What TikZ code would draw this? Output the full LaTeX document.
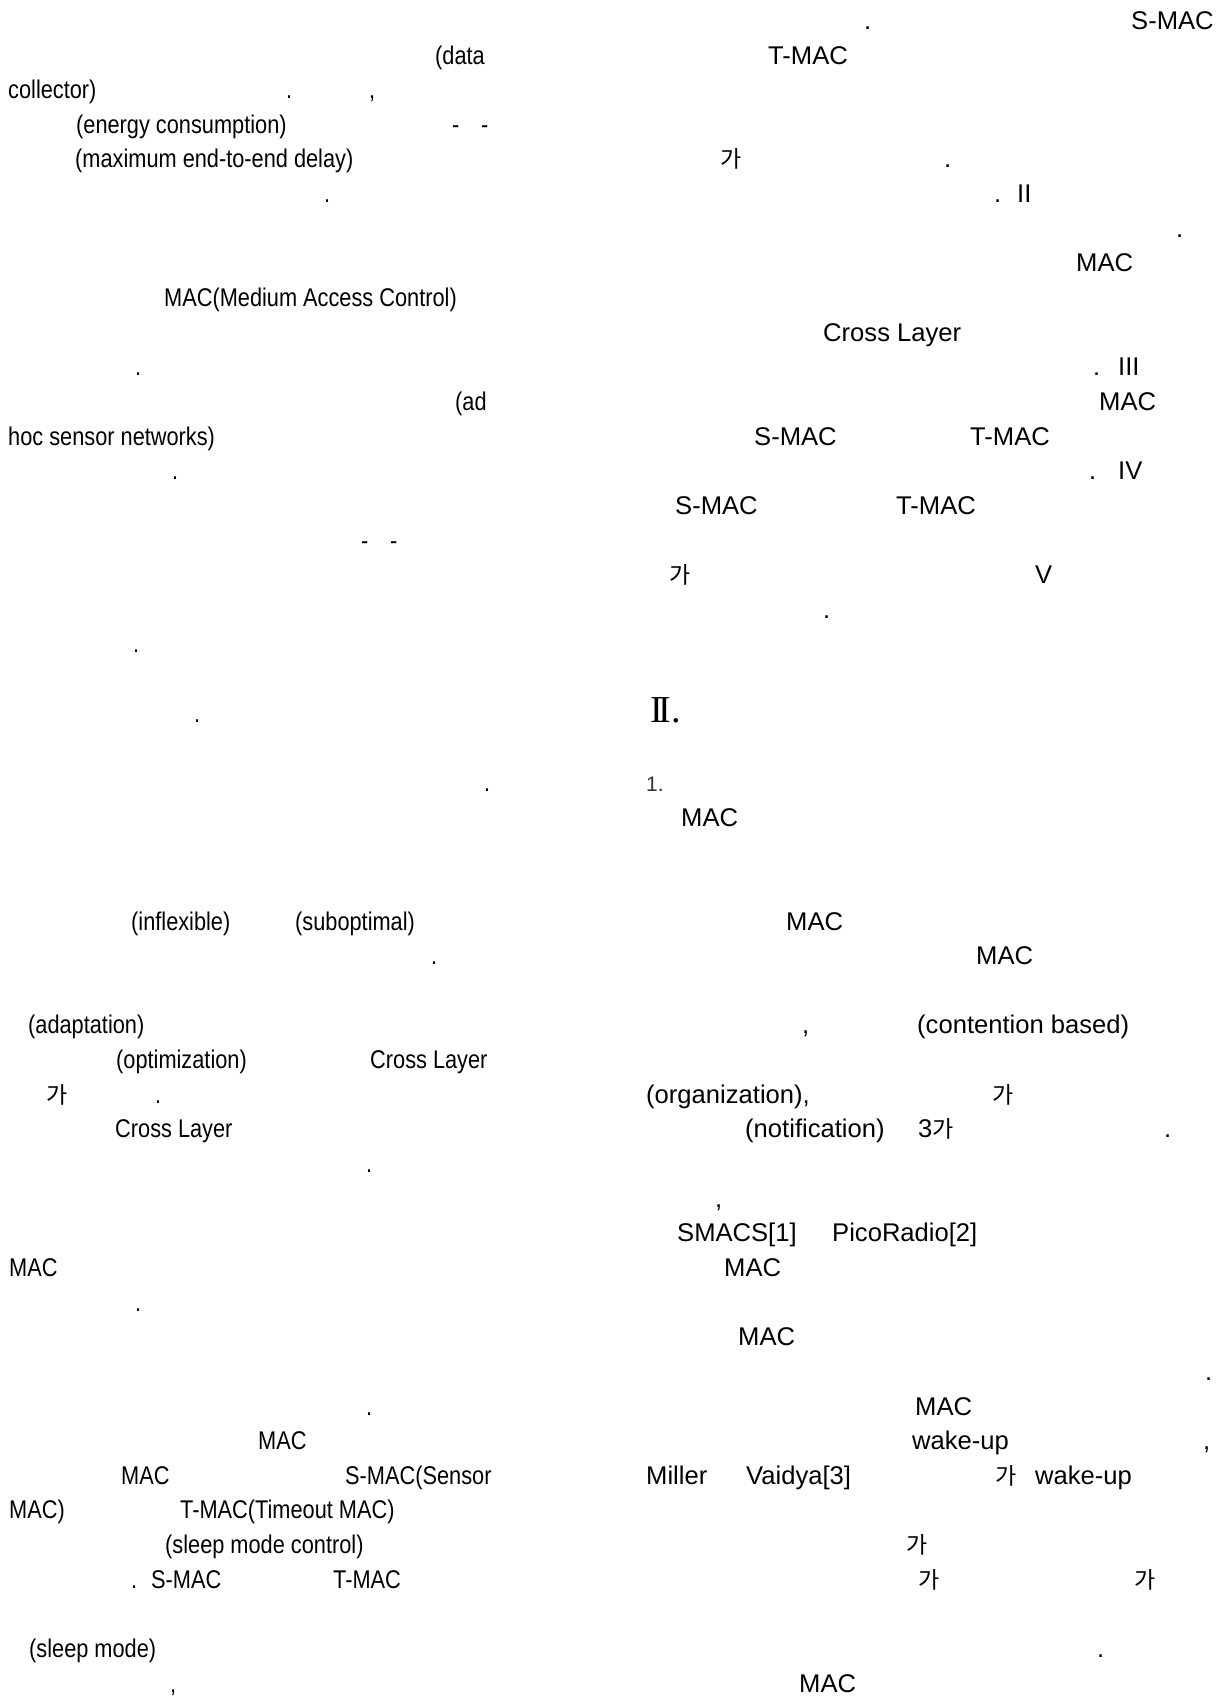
\documentclass[tikz,border=0pt]{standalone}
\usepackage{fontspec}
\setmainfont[FakeStretch=0.85]{Liberation Sans}
\newfontfamily\widefont{Liberation Sans}
\newfontfamily\krfont{Noto Sans CJK KR}
\newfontfamily\serfont{Liberation Serif}
\begin{document}
\begin{tikzpicture}[x=1pt,y=-1pt,
  txt/.style={anchor=base west, inner sep=0pt, text=black, font=\fontsize{25.6}{30}\selectfont},
  rtxt/.style={anchor=base west, inner sep=0pt, text=black, font=\fontsize{25.6}{30}\selectfont\widefont},
  kr/.style={anchor=base west, inner sep=0pt, text=black, font=\fontsize{23}{30}\selectfont\krfont},
  head/.style={anchor=base west, inner sep=0pt, text=black, font=\fontsize{38}{40}\selectfont\serfont},
  sub/.style={anchor=base west, inner sep=0pt, text=black!80, font=\fontsize{21}{25}\selectfont\widefont}]
\useasboundingbox (0,0) rectangle (1230,1697);
\fill[white] (0,0) rectangle (1230,1697);
% ---------------- left column ----------------
\node[txt] (l1) at (435,64) {(data};
\node[txt] (l2) at (8,98.6) {collector)};
\node[txt] (l3) at (286,98.6) {.};
\node[txt] (l4) at (369,98.6) {,};
\node[txt] (l5) at (76,133.3) {(energy consumption)};
\node[txt] (l6) at (452,133.3) {-};
\node[txt] (l7) at (481,133.3) {-};
\node[txt] (l8) at (75,167.9) {(maximum end-to-end delay)};
\node[txt] (l9) at (324,202.6) {.};
\node[txt] (l10) at (164,306.5) {MAC(Medium Access Control)};
\node[txt] (l11) at (135,375.8) {.};
\node[txt] (l12) at (455,410.4) {(ad};
\node[txt] (l13) at (8,445) {hoc sensor networks)};
\node[txt] (l14) at (172,479.7) {.};
\node[txt] (l15) at (361,549) {-};
\node[txt] (l16) at (390,549) {-};
\node[txt] (l17) at (133,652.9) {.};
\node[txt] (l18) at (194,722.2) {.};
\node[txt] (l19) at (484,791.4) {.};
\node[txt] (l20) at (131,930) {(inflexible)};
\node[txt] (l21) at (295,930) {(suboptimal)};
\node[txt] (l22) at (431,964.6) {.};
\node[txt] (l23) at (28,1033.9) {(adaptation)};
\node[txt] (l24) at (116,1068.6) {(optimization)};
\node[txt] (l25) at (370,1068.6) {Cross Layer};
\node[kr] (l26) at (46,1103.2) {가};
\node[txt] (l27) at (155,1103.2) {.};
\node[txt] (l28) at (115,1137.8) {Cross Layer};
\node[txt] (l29) at (366,1172.5) {.};
\node[txt] (l30) at (9,1276.4) {MAC};
\node[txt] (l31) at (135,1311) {.};
\node[txt] (l32) at (366,1415) {.};
\node[txt] (l33) at (258,1449.6) {MAC};
\node[txt] (l34) at (121,1484.2) {MAC};
\node[txt] (l35) at (345,1484.2) {S-MAC(Sensor};
\node[txt] (l36) at (9,1518.9) {MAC)};
\node[txt] (l37) at (180,1518.9) {T-MAC(Timeout MAC)};
\node[txt] (l38) at (165,1553.5) {(sleep mode control)};
\node[txt] (l39) at (131,1588.2) {.};
\node[txt] (l40) at (151,1588.2) {S-MAC};
\node[txt] (l41) at (333,1588.2) {T-MAC};
\node[txt] (l42) at (29,1657.4) {(sleep mode)};
\node[txt] (l43) at (170,1692.1) {,};
% ---------------- right column ----------------
\node[rtxt] (r1) at (864,29.4) {.};
\node[rtxt] (r2) at (1131,29.4) {S-MAC};
\node[rtxt] (r3) at (768,64) {T-MAC};
\node[kr] (r4) at (720,167.9) {가};
\node[rtxt] (r5) at (944,167.9) {.};
\node[rtxt] (r6) at (994,202.6) {.};
\node[rtxt] (r7) at (1017,202.6) {II};
\node[rtxt] (r8) at (1176,237.2) {.};
\node[rtxt] (r9) at (1076,271.8) {MAC};
\node[rtxt] (r10) at (823,341.1) {Cross Layer};
\node[rtxt] (r11) at (1093,375.8) {.};
\node[rtxt] (r12) at (1118,375.8) {III};
\node[rtxt] (r13) at (1099,410.4) {MAC};
\node[rtxt] (r14) at (754,445) {S-MAC};
\node[rtxt] (r15) at (970,445) {T-MAC};
\node[rtxt] (r16) at (1089,479.7) {.};
\node[rtxt] (r17) at (1118,479.7) {IV};
\node[rtxt] (r18) at (675,514.3) {S-MAC};
\node[rtxt] (r19) at (896,514.3) {T-MAC};
\node[kr] (r20) at (669,583.6) {가};
\node[rtxt] (r21) at (1035,583.6) {V};
\node[rtxt] (r22) at (823,618.2) {.};
\node[head] (r23) at (650,722.2) {I\kern-4ptI.};
\node[sub] (r24) at (646,791.4) {1.};
\node[rtxt] (r25) at (681,826.1) {MAC};
\node[rtxt] (r26) at (786,930) {MAC};
\node[rtxt] (r27) at (976,964.6) {MAC};
\node[rtxt] (r28) at (802,1033.9) {,};
\node[rtxt] (r29) at (917,1033.9) {(contention based)};
\node[rtxt] (r30) at (646,1103.2) {(organization),};
\node[kr] (r31) at (992,1103.2) {가};
\node[rtxt] (r32) at (745,1137.8) {(notification)};
\node[rtxt] (r33) at (918,1137.8) {3{\fontsize{23}{30}\selectfont\krfont 가}};
\node[rtxt] (r34) at (1164,1137.8) {.};
\node[rtxt] (r35) at (715,1207.1) {,};
\node[rtxt] (r36) at (677,1241.8) {SMACS[1]};
\node[rtxt] (r37) at (832,1241.8) {PicoRadio[2]};
\node[rtxt] (r38) at (724,1276.4) {MAC};
\node[rtxt] (r39) at (738,1345.7) {MAC};
\node[rtxt] (r40) at (1205,1380.3) {.};
\node[rtxt] (r41) at (915,1415) {MAC};
\node[rtxt] (r42) at (912,1449.6) {wake-up};
\node[rtxt] (r43) at (1203,1449.6) {,};
\node[rtxt] (r44) at (646,1484.2) {Miller};
\node[rtxt] (r45) at (746,1484.2) {Vaidya[3]};
\node[kr] (r46) at (995,1484.2) {가};
\node[rtxt] (r47) at (1035,1484.2) {wake-up};
\node[kr] (r48) at (906,1553.5) {가};
\node[kr] (r49) at (918,1588.2) {가};
\node[kr] (r50) at (1134,1588.2) {가};
\node[rtxt] (r51) at (1097,1657.4) {.};
\node[rtxt] (r52) at (799,1692.1) {MAC};
\end{tikzpicture}
\end{document}
